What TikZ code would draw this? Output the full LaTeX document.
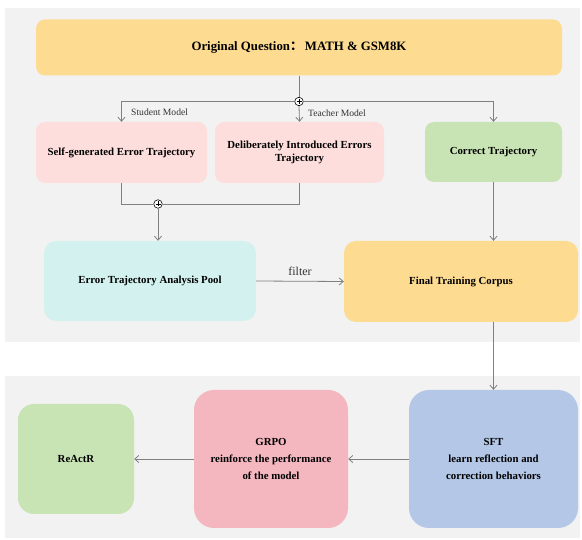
\documentclass[tikz,border=0pt]{standalone}
\usepackage{fontspec}
\setmainfont{Liberation Serif}
\newfontfamily\cjkfont{Noto Sans CJK SC}
\usetikzlibrary{arrows.meta}
\definecolor{panelbg}{HTML}{F2F2F2}
\definecolor{cyellow}{HTML}{FDDB91}
\definecolor{cpink}{HTML}{FDDEDC}
\definecolor{cgreen}{HTML}{C9E4B4}
\definecolor{ccyan}{HTML}{D3F2EF}
\definecolor{cblue}{HTML}{B4C7E7}
\definecolor{crose}{HTML}{F4B6BF}
\definecolor{cline}{HTML}{808080}
\tikzset{
  box/.style={rounded corners=9pt, draw=none, align=center, inner sep=0pt,
    font=\bfseries\fontsize{10.8}{13.5}\selectfont},
  bigbox/.style={box, rounded corners=20pt, font=\bfseries\fontsize{10.8}{17}\selectfont},
  conn/.style={draw=cline, line width=0.8pt},
  arr/.style={conn, -{Straight Barb[length=4pt,width=7pt,line width=0.8pt]}},
  junction/.style={circle, draw=black, fill=white, line width=0.6pt, minimum size=8.5pt, inner sep=0pt,
    path picture={\draw[line width=0.6pt] ([xshift=-2.5pt]path picture bounding box.center) -- ([xshift=2.5pt]path picture bounding box.center)
      ([yshift=-2.5pt]path picture bounding box.center) -- ([yshift=2.5pt]path picture bounding box.center);}},
  small/.style={font=\fontsize{9.6}{11}\selectfont, text=black!80, inner sep=0pt, anchor=west},
}
\begin{document}
\begin{tikzpicture}[x=1pt,y=-1pt]
\useasboundingbox (0,0) rectangle (582,540);
\fill[panelbg] (5,8) rectangle (580,342);
\fill[panelbg] (5,376) rectangle (580,538);

\node[box, fill=cyellow, minimum width=526pt, minimum height=56pt, font=\bfseries\fontsize{12.8}{15}\selectfont] (oq) at (299,47.5)
  {Original Question{\cjkfont\bfseries ：}\,MATH \& GSM8K};

\node[box, fill=cpink, minimum width=171pt, minimum height=61pt] (seg) at (121.5,152.5) {Self-generated Error Trajectory};
\node[box, fill=cpink, minimum width=169pt, minimum height=61pt] (dit) at (299.5,152.5) {Deliberately Introduced Errors\\Trajectory};
\node[box, fill=cgreen, minimum width=137pt, minimum height=60pt] (ct) at (493.5,152) {Correct Trajectory};

\node[box, fill=ccyan, rounded corners=12pt, minimum width=212pt, minimum height=80pt] (etap) at (150,281) {Error Trajectory Analysis Pool};
\node[box, fill=cyellow, rounded corners=12pt, minimum width=234pt, minimum height=81pt] (ftc) at (461,281.5) {Final Training Corpus};

\node[bigbox, fill=cblue, minimum width=169pt, minimum height=138pt] (sft) at (493.5,459) {SFT\\learn reflection and\\correction behaviors};
\node[bigbox, fill=crose, minimum width=154pt, minimum height=138pt] (grpo) at (271,459) {GRPO\\reinforce the performance\\of the model};
\node[bigbox, fill=cgreen, rounded corners=16pt, minimum width=116pt, minimum height=110pt] (rea) at (76,459) {ReActR};

\node[junction] (j1) at (299,101.5) {};
\node[junction] (j2) at (158,204) {};
\coordinate (segbot) at (121.5,204);

\draw[conn] (oq.south) -- (j1.north);
\draw[arr] (j1.west) -| (seg.north);
\draw[arr] (j1.south) -- (dit.north);
\draw[arr] (j1.east) -| (ct.north);
\node[small] (sm) at (131,112) {Student Model};
\node[small] (tm) at (308,113) {Teacher Model};

\draw[conn] (seg.south) -- (segbot) -- (j2.west);
\draw[conn] (dit.south) |- (j2.east);
\draw[arr] (j2.south) -- (j2.south |- etap.north);
\draw[arr] (ct.south) -- (ct.south |- ftc.north);
\draw[arr] (etap.east) -- node[above=5pt, font=\fontsize{12}{14}\selectfont, text=black!80, inner sep=0pt] (flt) {filter} (ftc.west);
\draw[arr] (sft.north |- ftc.south) -- (sft.north);
\draw[arr] (sft.west) -- (grpo.east);
\draw[arr] (grpo.west) -- (rea.east);
\end{tikzpicture}
\end{document}
